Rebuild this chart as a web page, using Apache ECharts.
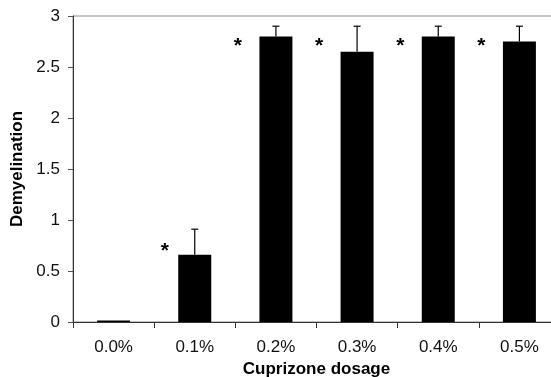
<!DOCTYPE html>
<html>
<head>
<meta charset="utf-8">
<script src="https://cdn.jsdelivr.net/npm/echarts@6/dist/echarts.min.js"></script>
<style>
  html, body { margin: 0; padding: 0; background: #fff; }
  #chart { width: 551px; height: 377px; }
</style>
</head>
<body>
<div id="chart"></div>
<script>
// Demyelination score by cuprizone dosage
const dosages = ['0.0%', '0.1%', '0.2%', '0.3%', '0.4%', '0.5%'];
const demyelination = [0.015, 0.66, 2.8, 2.65, 2.8, 2.75];
const errorTop = [null, 0.91, 2.9, 2.9, 2.9, 2.9];
// height at which the significance mark sits (null = not significant)
const significance = [null, 0.75, 2.76, 2.76, 2.76, 2.76];
const yTicks = [0, 0.5, 1, 1.5, 2, 2.5, 3];

const FONT = 'Liberation Sans, Arial, Helvetica, sans-serif';
const chart = echarts.init(document.getElementById('chart'));

chart.setOption({
  animation: false,
  grid: {
    left: 73, top: 16, right: -9, bottom: 55,
    outerBoundsMode: 'none',
    show: true, borderColor: '#8a8a8a', borderWidth: 1
  },
  xAxis: {
    type: 'category',
    data: dosages,
    name: 'Cuprizone dosage',
    nameLocation: 'middle',
    nameGap: 38,
    nameTextStyle: { fontFamily: FONT, fontSize: 17, fontWeight: 'bold', color: '#000' },
    axisLine: { lineStyle: { color: '#333', width: 1 } },
    axisTick: { show: true, length: 6, lineStyle: { color: '#333' } },
    axisLabel: { fontFamily: FONT, fontSize: 17, color: '#111', margin: 17 }
  },
  yAxis: {
    type: 'value',
    min: yTicks[0],
    max: yTicks[yTicks.length - 1],
    interval: 0.5,
    name: 'Demyelination',
    nameLocation: 'middle',
    nameGap: 44,
    nameTextStyle: { fontFamily: FONT, fontSize: 17, fontWeight: 'bold', color: '#000' },
    axisLine: { show: true, lineStyle: { color: '#333', width: 1 } },
    axisTick: { show: true, length: 5, lineStyle: { color: '#555' } },
    splitLine: { show: false },
    axisLabel: { fontFamily: FONT, fontSize: 17, color: '#111', margin: 13 }
  },
  series: [
    {
      type: 'bar',
      data: demyelination,
      barWidth: 33,
      itemStyle: { color: '#000' },
      z: 2
    },
    {
      // upper error bars with caps
      type: 'custom',
      data: errorTop.map((v, i) => [i, demyelination[i], v]),
      renderItem: function (params, api) {
        const top = api.value(2);
        if (top == null || isNaN(top)) return;
        const base = api.coord([api.value(0), api.value(1)]);
        const cap = api.coord([api.value(0), top]);
        const half = 3.5;
        return {
          type: 'group',
          children: [
            { type: 'line', shape: { x1: base[0], y1: base[1], x2: cap[0], y2: cap[1] },
              style: { stroke: '#000', lineWidth: 1.2 } },
            { type: 'line', shape: { x1: cap[0] - half, y1: cap[1], x2: cap[0] + half, y2: cap[1] },
              style: { stroke: '#000', lineWidth: 1.2 } }
          ]
        };
      },
      z: 3
    },
    {
      // significance asterisks to the left of each bar
      type: 'custom',
      data: significance.map((v, i) => [i, v]),
      renderItem: function (params, api) {
        const v = api.value(1);
        if (v == null || isNaN(v)) return;
        const p = api.coord([api.value(0), v]);
        const dx = params.dataIndex === 1 ? -30 : -38;
        return {
          type: 'text',
          x: p[0] + dx,
          y: p[1] + 6,
          style: {
            text: '*',
            fontFamily: FONT,
            fontSize: 21,
            fontWeight: 'bold',
            fill: '#000',
            align: 'center',
            verticalAlign: 'middle'
          }
        };
      },
      z: 4
    }
  ]
});
</script>
</body>
</html>
